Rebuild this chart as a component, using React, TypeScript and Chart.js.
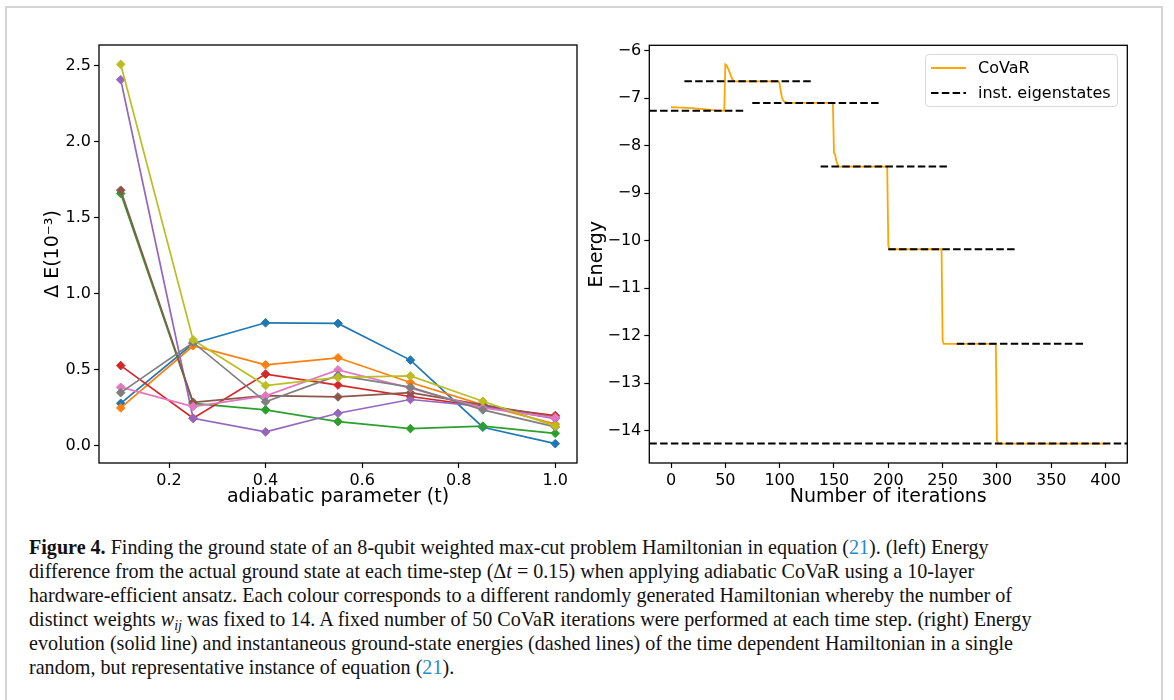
import React, { useEffect, useRef } from 'react';
import { Chart, registerables } from 'chart.js';

Chart.register(...registerables);

// ---------- Left panel data ----------
const tValues = [0.1, 0.25, 0.4, 0.55, 0.7, 0.85, 1.0];
const hamC0 = [0.28, 0.673, 0.809, 0.805, 0.564, 0.123, 0.015];
const hamC1 = [0.25, 0.658, 0.533, 0.579, 0.417, 0.27, 0.143];
const hamC2 = [1.658, 0.28, 0.237, 0.16, 0.114, 0.13, 0.083];
const hamC3 = [0.528, 0.182, 0.472, 0.4, 0.325, 0.26, 0.2];
const hamC4 = [2.406, 0.182, 0.092, 0.215, 0.305, 0.26, 0.18];
const hamC5 = [1.68, 0.287, 0.33, 0.322, 0.35, 0.27, 0.19];
const hamC6 = [0.386, 0.259, 0.329, 0.5, 0.38, 0.25, 0.186];
const hamC7 = [0.35, 0.68, 0.29, 0.463, 0.386, 0.237, 0.125];
const hamC8 = [2.507, 0.697, 0.397, 0.45, 0.46, 0.294, 0.13];
const leftSeries = [hamC0, hamC1, hamC2, hamC3, hamC4, hamC5, hamC6, hamC7, hamC8];
const tab10 = ['#1f77b4', '#ff7f0e', '#2ca02c', '#d62728', '#9467bd', '#8c564b', '#e377c2', '#7f7f7f', '#bcbd22'];
const leftXTicks = [0.2, 0.4, 0.6, 0.8, 1.0];
const leftYTicks = [0.0, 0.5, 1.0, 1.5, 2.0, 2.5];

// ---------- Right panel data ----------
const covarIter = [0, 10, 20, 30, 40, 49, 50, 51, 52, 53, 54, 55, 56, 57, 58, 99, 100, 101, 102, 103, 104, 106, 108, 149, 150, 151, 152, 153, 154, 155, 199, 200, 201, 249, 250, 251, 299, 300, 301, 400];
const covarEnergy = [-7.19, -7.2, -7.21, -7.23, -7.255, -7.263, -6.29, -6.31, -6.35, -6.4, -6.46, -6.52, -6.58, -6.62, -6.645, -6.645, -6.7, -6.85, -6.97, -7.04, -7.07, -7.09, -7.1, -7.1, -8.15, -8.18, -8.3, -8.38, -8.42, -8.44, -8.44, -10.1, -10.18, -10.18, -12.1, -12.17, -12.17, -14.2, -14.27, -14.27];
const eigStart = [-20, 12.3, 74.8, 137.7, 200, 263, -20];
const eigEnd = [66.5, 130, 193, 256.3, 318.4, 381.6, 420];
const eigEnergy = [-7.263, -6.645, -7.1, -8.44, -10.18, -12.17, -14.27];
const rightXTicks = [0, 50, 100, 150, 200, 250, 300, 350, 400];
const rightYTicks = [-14, -13, -12, -11, -10, -9, -8, -7, -6];

const FONT = 'DejaVu Sans';

const framePlugin = {
  id: 'axesFrame',
  afterDatasetsDraw(chart: any) {
    const { ctx, chartArea } = chart;
    ctx.save();
    ctx.strokeStyle = '#000';
    ctx.lineWidth = 1.3;
    ctx.strokeRect(chartArea.left, chartArea.top, chartArea.right - chartArea.left, chartArea.bottom - chartArea.top);
    ctx.restore();
  },
};

function axisCommon(ticks: number[], fmt: (v: number) => string, fontSize: number) {
  return {
    type: 'linear',
    border: { display: false },
    grid: { drawOnChartArea: false, drawTicks: true, tickLength: 5, tickColor: '#000', tickWidth: 1.2, color: '#000' },
    afterBuildTicks: (s: any) => { s.ticks = ticks.map((v) => ({ value: v })); },
    ticks: { color: '#000', font: { family: FONT, size: fontSize }, padding: 3, callback: (v: any) => fmt(Number(v)), autoSkip: false, maxRotation: 0 },
  };
}

function LeftChart() {
  const ref = useRef<HTMLCanvasElement>(null);
  useEffect(() => {
    const datasets = leftSeries.map((s, i) => ({
      label: 'H' + i,
      data: tValues.map((t, j) => ({ x: t, y: s[j] })),
      borderColor: tab10[i],
      backgroundColor: tab10[i],
      borderWidth: 1.7,
      pointStyle: 'rectRot',
      pointRadius: 4.3,
      pointBorderWidth: 1,
      tension: 0,
      order: 8 - i,
    }));
    const chart = new Chart(ref.current!, {
      type: 'line',
      data: { datasets },
      options: {
        animation: false,
        responsive: false,
        maintainAspectRatio: false,
        layout: { padding: { top: 45, right: 13, left: 0, bottom: 0 } },
        plugins: { legend: { display: false }, tooltip: { enabled: false } },
        scales: {
          x: {
            ...axisCommon(leftXTicks, (v) => v.toFixed(1), 16),
            min: 0.055,
            max: 1.045,
            afterFit: (s: any) => { s.height = 57; },
            title: { display: true, text: 'adiabatic parameter (t)', color: '#000', font: { family: FONT, size: 19 }, padding: { top: 0, bottom: 11.5 } },
          },
          y: {
            ...axisCommon(leftYTicks, (v) => v.toFixed(1), 16),
            min: -0.112,
            max: 2.634,
            afterFit: (s: any) => { s.width = 99; },
            title: { display: true, text: 'Δ E(10⁻³)', color: '#000', font: { family: FONT, size: 19 }, padding: { top: 41.6, bottom: 0 } },
          },
        },
      } as any,
      plugins: [framePlugin],
    });
    return () => chart.destroy();
  }, []);
  return <canvas ref={ref} width={590} height={520} style={{ position: 'absolute', left: 0, top: 0, width: 590, height: 520 }} />;
}

function RightChart() {
  const ref = useRef<HTMLCanvasElement>(null);
  useEffect(() => {
    const eigSets = eigEnergy.map((e, i) => ({
      label: 'inst. eigenstates',
      data: [{ x: eigStart[i], y: e }, { x: eigEnd[i], y: e }],
      borderColor: '#000',
      backgroundColor: '#000',
      borderWidth: 2,
      borderDash: [7.5, 3.3],
      pointRadius: 0,
      order: 0,
    }));
    const chart = new Chart(ref.current!, {
      type: 'line',
      data: {
        datasets: [
          ...eigSets,
          {
            label: 'CoVaR',
            data: covarIter.map((x, i) => ({ x, y: covarEnergy[i] })),
            borderColor: '#ffa500',
            backgroundColor: '#ffa500',
            borderWidth: 1.8,
            pointRadius: 0,
            tension: 0,
            order: 1,
          },
        ],
      },
      options: {
        animation: false,
        responsive: false,
        maintainAspectRatio: false,
        layout: { padding: { top: 45.3, right: 46.7, left: 0, bottom: 0 } },
        plugins: { legend: { display: false }, tooltip: { enabled: false } },
        scales: {
          x: {
            ...axisCommon(rightXTicks, (v) => String(v).replace('-', '\u2212'), 16),
            min: -20,
            max: 420,
            afterFit: (s: any) => { s.height = 57; },
            title: { display: true, text: 'Number of iterations', color: '#000', font: { family: FONT, size: 19 }, padding: { top: 0, bottom: 11.5 } },
          },
          y: {
            ...axisCommon(rightYTicks, (v) => String(v).replace('-', '\u2212'), 16),
            min: -14.68,
            max: -5.886,
            afterFit: (s: any) => { s.width = 69.3; },
            title: { display: true, text: 'Energy', color: '#000', font: { family: FONT, size: 19 }, padding: { top: 5.6, bottom: 0 } },
          },
        },
      } as any,
      plugins: [framePlugin],
    });
    return () => chart.destroy();
  }, []);
  return <canvas ref={ref} width={594} height={520} style={{ position: 'absolute', left: 580, top: 0, width: 594, height: 520 }} />;
}

function Legend() {
  const row = (top: number, dashed: boolean, color: string, text: string) => (
    <div style={{ position: 'absolute', left: 0, top, height: 20, width: 193 }}>
      <svg width={40} height={20} style={{ position: 'absolute', left: 4, top: 0 }}>
        <line x1={1} y1={10} x2={36} y2={10} stroke={color} strokeWidth={2} strokeDasharray={dashed ? '7.5 3.3' : undefined} />
      </svg>
      <span style={{ position: 'absolute', left: 52, top: 0, lineHeight: '20px', fontSize: 16, fontFamily: FONT, color: '#000', whiteSpace: 'nowrap' }}>{text}</span>
    </div>
  );
  return (
    <div style={{ position: 'absolute', left: 925, top: 54, width: 193, height: 53, boxSizing: 'border-box', border: '1px solid #d9d9d9', borderRadius: 4, background: 'rgba(255,255,255,0.8)' }}>
      {row(3, false, '#ffa500', 'CoVaR')}
      {row(28, true, '#000', 'inst. eigenstates')}
    </div>
  );
}

const BLUE = '#2a8ac6';

function Caption() {
  const line: React.CSSProperties = { whiteSpace: 'nowrap', height: 24, lineHeight: '24px' };
  return (
    <div style={{ position: 'absolute', left: 29, top: 535.2, fontFamily: '"Liberation Serif", serif', fontSize: 20.1, color: '#111' }}>
      <div style={line}><b>Figure 4.</b> Finding the ground state of an 8-qubit weighted max-cut problem Hamiltonian in equation (<span style={{ color: BLUE }}>21</span>). (left) Energy</div>
      <div style={line}>difference from the actual ground state at each time-step (Δ<i>t</i> = 0.15) when applying adiabatic CoVaR using a 10-layer</div>
      <div style={line}>hardware-efficient ansatz. Each colour corresponds to a different randomly generated Hamiltonian whereby the number of</div>
      <div style={line}>distinct weights <i>w<sub style={{ fontSize: '70%', verticalAlign: '-0.25em' }}>ij</sub></i> was fixed to 14. A fixed number of 50 CoVaR iterations were performed at each time step. (right) Energy</div>
      <div style={line}>evolution (solid line) and instantaneous ground-state energies (dashed lines) of the time dependent Hamiltonian in a single</div>
      <div style={line}>random, but representative instance of equation (<span style={{ color: BLUE }}>21</span>).</div>
    </div>
  );
}

export default function App() {
  return (
    <div style={{ position: 'absolute', left: 0, top: 0, width: 1174, height: 700, overflow: 'hidden', background: '#fff' }}>
      <div style={{ position: 'absolute', left: 5, top: 6, width: 1158, height: 720, boxSizing: 'border-box', border: '2px solid #d4d4d4' }} />
      <LeftChart />
      <RightChart />
      <Legend />
      <Caption />
    </div>
  );
}
